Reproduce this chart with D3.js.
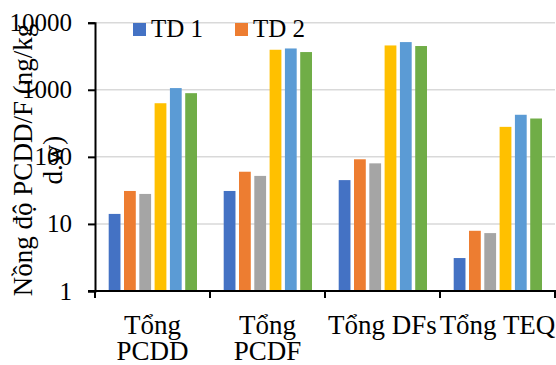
<!DOCTYPE html>
<html>
<head>
<meta charset="utf-8">
<script src="https://cdn.jsdelivr.net/npm/d3@7/dist/d3.min.js"></script>
<style>
  body { margin: 0; background: #fff; }
  svg { display: block; font-family: "Liberation Serif", "Times New Roman", serif; }
</style>
</head>
<body>
<div id="chart"></div>
<script>
// categories and series
var categories = ["Tổng PCDD", "Tổng PCDF", "Tổng DFs", "Tổng TEQ"];
var catLines = [["Tổng", "PCDD"], ["Tổng", "PCDF"], ["Tổng DFs"], ["Tổng TEQ"]];
var seriesNames = ["TD 1", "TD 2", "TD 3", "TD 4", "TD 5", "TD 6"];
var legendNames = ["TD 1", "TD 2"];
var colors = ["#4472C4", "#ED7D31", "#A5A5A5", "#FFC000", "#5B9BD5", "#70AD47"];

// values per series, one per category
var td1 = [14.1, 31, 45, 3.1];
var td2 = [31, 60, 92, 7.9];
var td3 = [28, 52, 80, 7.3];
var td4 = [630, 3950, 4580, 280];
var td5 = [1060, 4130, 5140, 424];
var td6 = [890, 3650, 4490, 373];
var seriesValues = [td1, td2, td3, td4, td5, td6];

var yTicks = [1, 10, 100, 1000, 10000];

var width = 556, height = 365;
var plotLeft = 95, plotRight = 555, plotTop = 22.7, plotBottom = 291;

var svg = d3.select("#chart").append("svg")
    .attr("width", width)
    .attr("height", height);

var x0 = d3.scaleBand().domain(categories).range([plotLeft, plotRight]).padding(0);
var x1 = d3.scaleBand().domain(seriesNames).range([13.7, 102]).paddingInner(0.23).paddingOuter(0);
var y = d3.scaleLog().domain([1, 10000]).range([plotBottom, plotTop]);

// gridlines
svg.append("g")
    .selectAll("line")
    .data(yTicks.slice(1))
    .enter().append("line")
    .attr("x1", plotLeft).attr("x2", plotRight)
    .attr("y1", function(d) { return y(d); })
    .attr("y2", function(d) { return y(d); })
    .attr("stroke", "#d9d9d9")
    .attr("stroke-width", 1.5);

// bars
var groups = svg.append("g").selectAll("g")
    .data(categories)
    .enter().append("g")
    .attr("transform", function(d) { return "translate(" + x0(d) + ",0)"; });

groups.selectAll("rect")
    .data(function(d, i) {
        return seriesNames.map(function(s, j) { return {s: s, v: seriesValues[j][i], c: colors[j]}; });
    })
    .enter().append("rect")
    .attr("x", function(d) { return x1(d.s); })
    .attr("width", x1.bandwidth())
    .attr("y", function(d) { return y(d.v); })
    .attr("height", function(d) { return plotBottom - y(d.v); })
    .attr("fill", function(d) { return d.c; });

// y axis
var yAxis = d3.axisLeft(y)
    .tickValues(yTicks)
    .tickFormat(d3.format("d"))
    .tickSize(7)
    .tickPadding(16);
var gy = svg.append("g")
    .attr("transform", "translate(" + plotLeft + ",0)")
    .call(yAxis);
gy.select(".domain").attr("stroke", "#000").attr("stroke-width", 2);
gy.selectAll(".tick line").attr("stroke", "#000").attr("stroke-width", 2);
gy.selectAll("text")
    .attr("font-family", "Liberation Serif, Times New Roman, serif")
    .attr("font-size", "25px")
    .attr("fill", "#000");

// x axis
var boundaries = d3.range(categories.length + 1).map(function(i) {
    return i < categories.length ? x0(categories[i]) : plotRight;
});
svg.append("line")
    .attr("x1", plotLeft - 7).attr("x2", plotRight + 1)
    .attr("y1", plotBottom).attr("y2", plotBottom)
    .attr("stroke", "#000").attr("stroke-width", 2);
svg.append("g").selectAll("line")
    .data(boundaries)
    .enter().append("line")
    .attr("x1", function(d) { return d; })
    .attr("x2", function(d) { return d; })
    .attr("y1", plotBottom).attr("y2", plotBottom + 7)
    .attr("stroke", "#000").attr("stroke-width", 2);

// category labels
var labels = svg.append("g").selectAll("text")
    .data(categories)
    .enter().append("text")
    .attr("text-anchor", "middle")
    .attr("font-size", "27px")
    .attr("fill", "#000");
labels.each(function(d, i) {
    var t = d3.select(this);
    catLines[i].forEach(function(line, k) {
        t.append("tspan")
            .attr("x", x0(d) + x0.bandwidth() / 2)
            .attr("y", 334 + k * 26)
            .text(line);
    });
});

// y axis title
var title = svg.append("text")
    .attr("transform", "translate(32,160) rotate(-90)")
    .attr("text-anchor", "middle")
    .attr("font-size", "27px")
    .attr("fill", "#000");
title.append("tspan").attr("x", 0).attr("y", 0).text("Nồng độ PCDD/F (ng/kg");
title.append("tspan").attr("x", 0).attr("y", 30).text("d.w)");

// legend
var legend = svg.append("g").selectAll("g")
    .data(legendNames)
    .enter().append("g")
    .attr("transform", function(d, i) { return "translate(" + (133 + i * 102) + ",23)"; });
legend.append("rect")
    .attr("width", 13).attr("height", 13)
    .attr("fill", function(d, i) { return colors[i]; });
legend.append("text")
    .attr("x", 18).attr("y", 14)
    .attr("font-size", "25px")
    .attr("fill", "#000")
    .text(function(d) { return d; });
</script>
</body>
</html>
